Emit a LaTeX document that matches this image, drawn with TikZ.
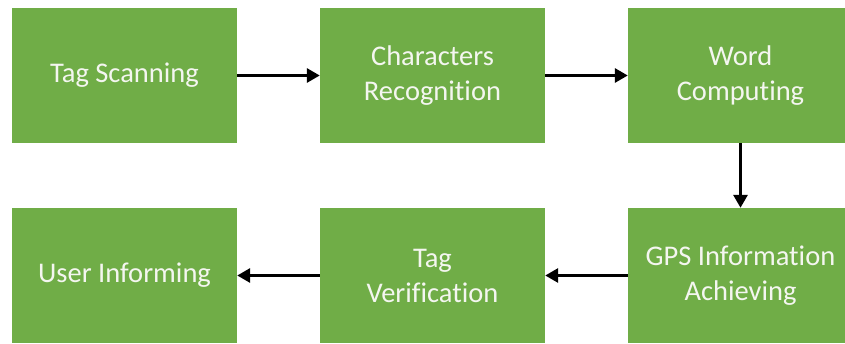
\documentclass[tikz,border=0pt]{standalone}
\usepackage{fontspec}
\setmainfont[Ligatures=NoCommon]{Carlito}
\usetikzlibrary{arrows.meta}
\definecolor{boxgreen}{HTML}{70AD47}
\definecolor{labelwhite}{HTML}{F4F6F0}
\tikzset{
  stage/.style={fill=boxgreen, draw=none, minimum width=225pt, minimum height=135pt,
    inner sep=0pt, align=center, text=labelwhite, font=\fontsize{28.5}{35}\selectfont},
  flow/.style={line width=3pt, -{Triangle[length=13pt,width=14pt]}}
}
\begin{document}
\begin{tikzpicture}[x=1pt,y=-1pt]
  \clip (0,0) rectangle (845,344);
  \fill[white] (0,0) rectangle (845,344);
  % top row
  \node[stage] (scan)  at (124.5,75.5) {Tag Scanning};
  \node[stage] (chars) at (432.5,75.5) {Characters\\Recognition};
  \node[stage] (word)  at (740.5,75.5) {Word\\Computing};
  % bottom row
  \node[stage] (user)  at (124.5,275.5) {User Informing};
  \node[stage] (verif) at (432.5,275.5) {Tag\\Verification};
  \node[stage] (gps)   at (740.5,275.5) {GPS Information\\Achieving};
  % connectors
  \draw[flow] (scan.east) -- (chars.west);
  \draw[flow] (chars.east) -- (word.west);
  \draw[flow] (word.south) -- (gps.north);
  \draw[flow] (gps.west) -- (verif.east);
  \draw[flow] (verif.west) -- (user.east);
\end{tikzpicture}
\end{document}
